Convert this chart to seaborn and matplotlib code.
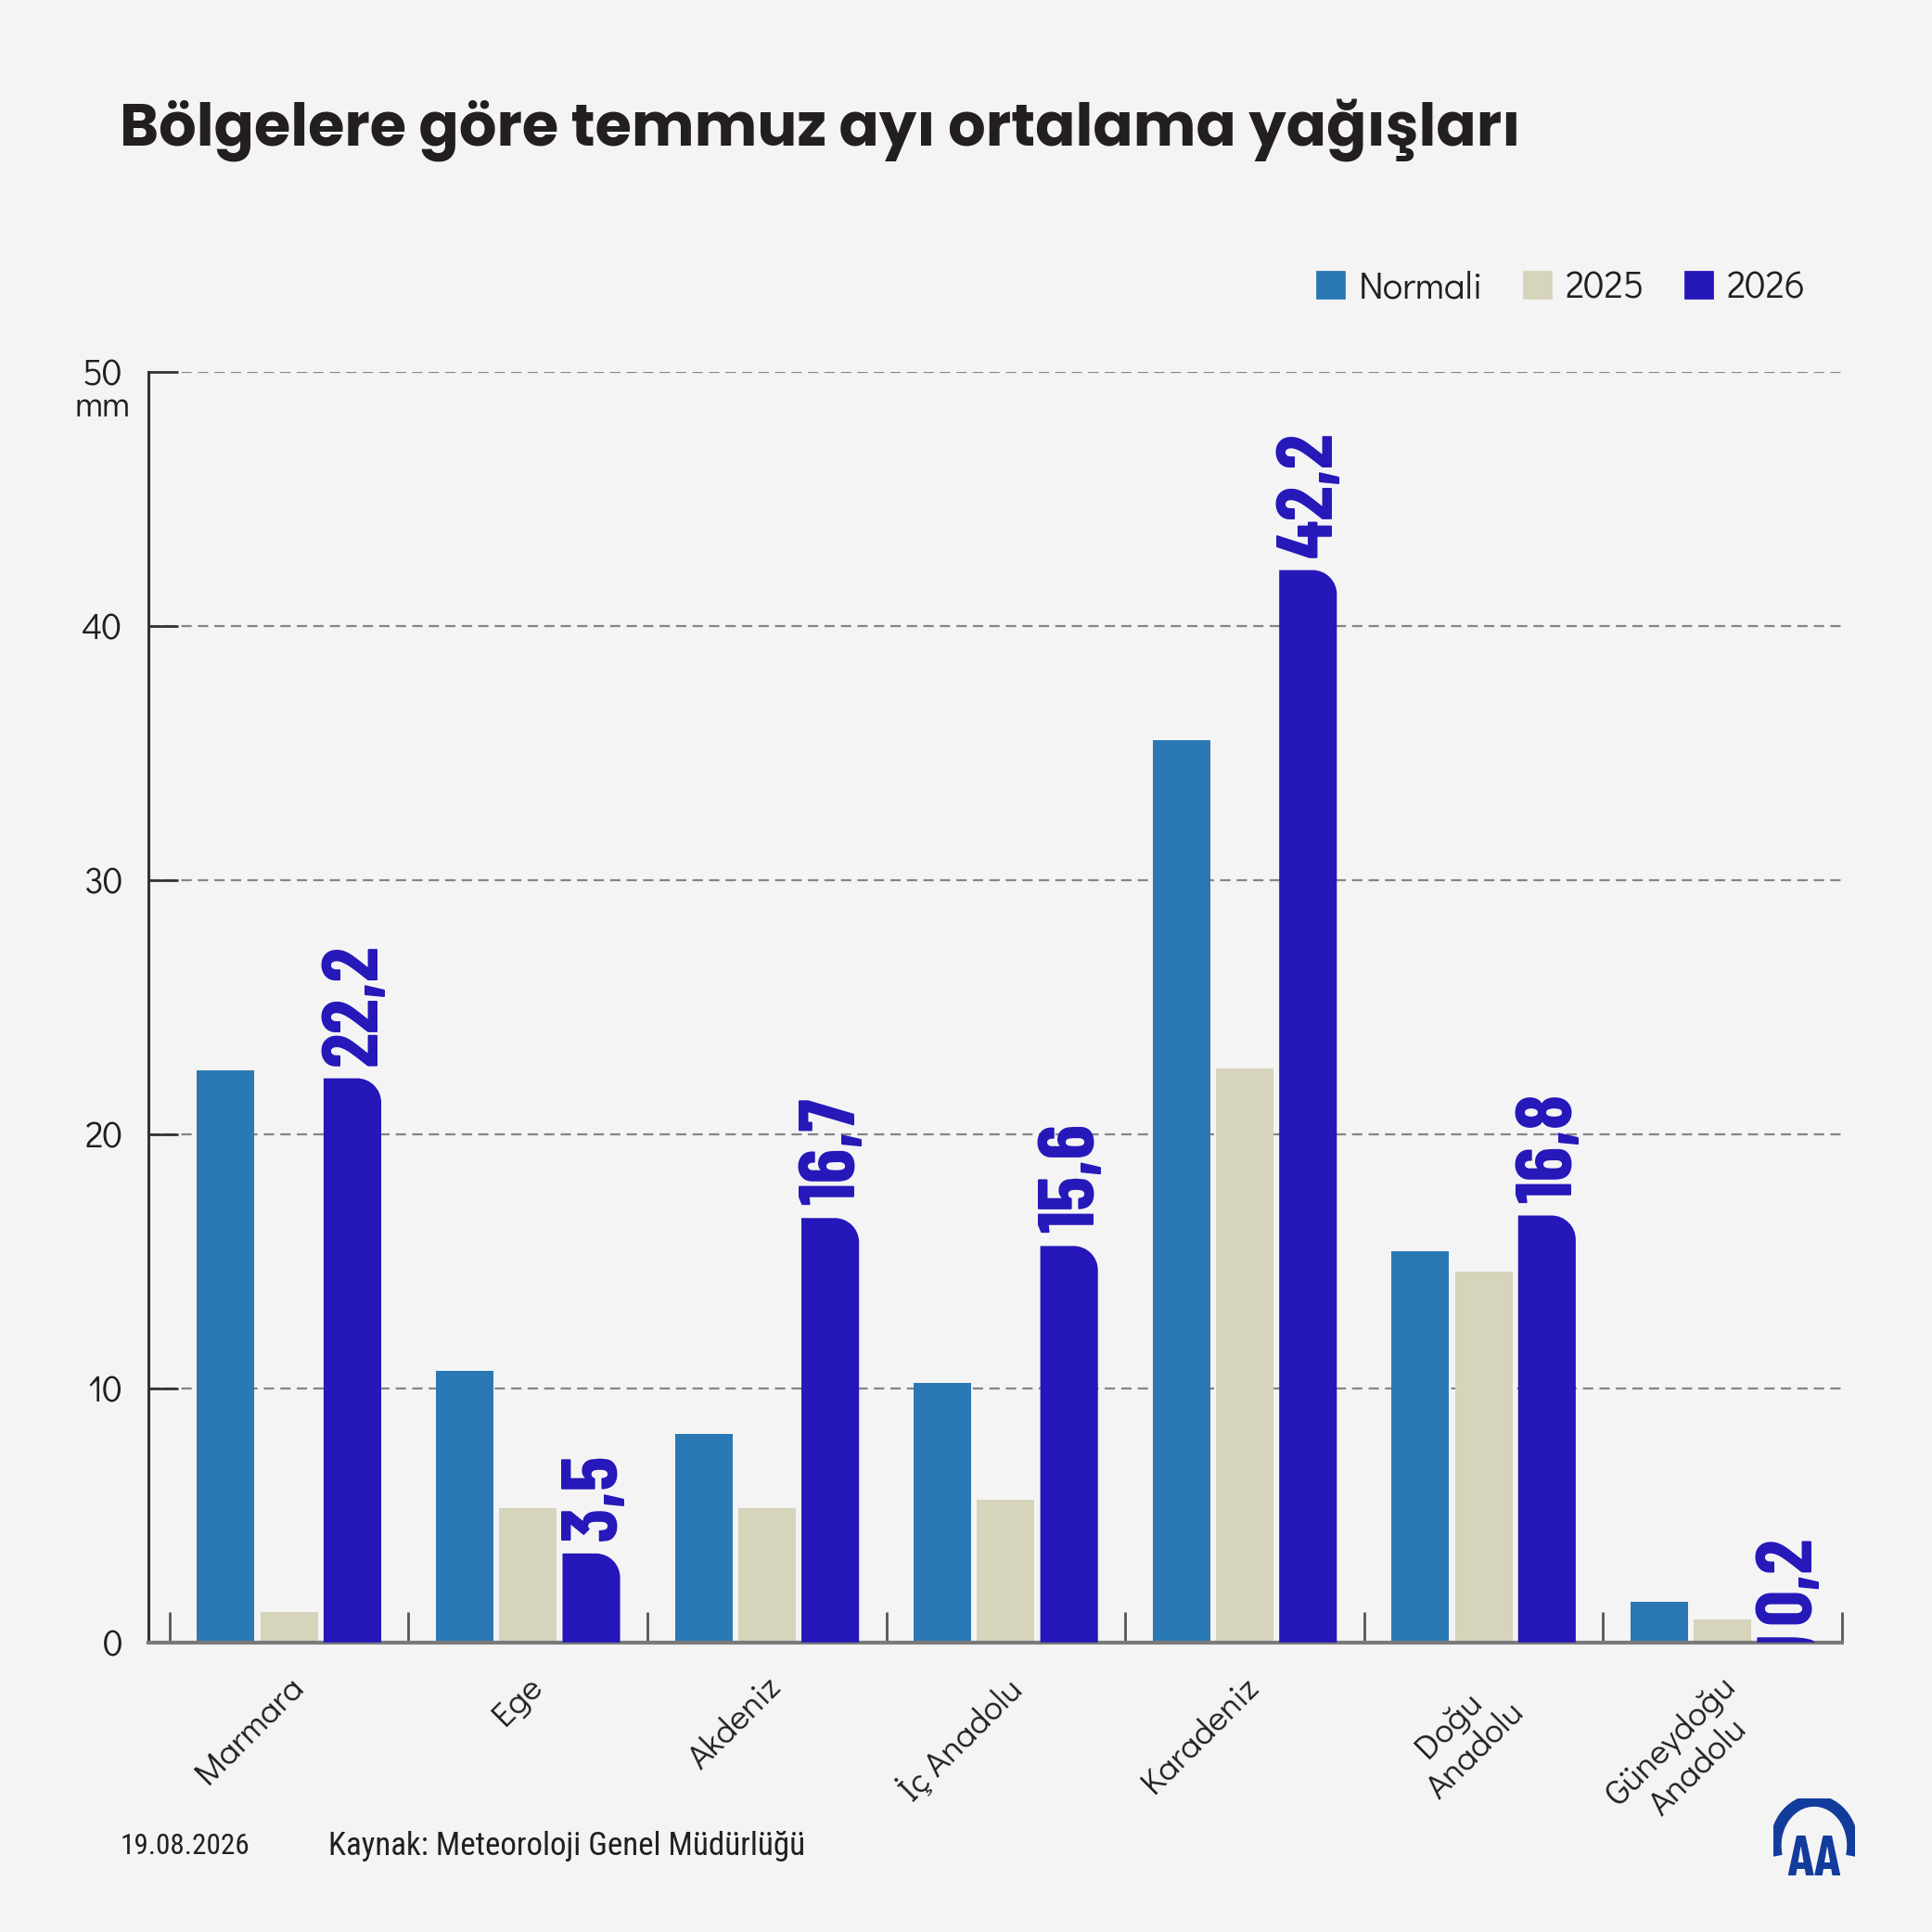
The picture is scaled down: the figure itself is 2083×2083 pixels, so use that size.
import matplotlib.pyplot as plt
import matplotlib.patches as mpatches
from matplotlib.path import Path
from matplotlib.ticker import FixedLocator
import seaborn as sns
import pandas as pd
import numpy as np

# --- data ---------------------------------------------------------------
REGIONS = ['Marmara', 'Ege', 'Akdeniz', 'İç Anadolu', 'Karadeniz',
           'Doğu\nAnadolu', 'Güneydoğu\nAnadolu']
SERIES = ['Normali', '2025', '2026']
NORMALI = [22.5, 10.7, 8.2, 10.2, 35.5, 15.4, 1.6]
Y2025 = [1.2, 5.3, 5.3, 5.6, 22.6, 14.6, 0.9]
Y2026 = [22.2, 3.5, 16.7, 15.6, 42.2, 16.8, 0.2]
LABELS_2026 = ['22,2', '3,5', '16,7', '15,6', '42,2', '16,8', '0,2']
Y_TICKS = [0, 10, 20, 30, 40, 50]

TITLE = 'Bölgelere göre temmuz ayı ortalama yağışları'
DATE = '19.08.2026'
SOURCE = 'Kaynak: Meteoroloji Genel Müdürlüğü'

# --- style --------------------------------------------------------------
BG = '#F4F4F4'
TEXT = '#231F20'
COLORS = {'Normali': '#2A79B4', '2025': '#D6D4BA', '2026': '#2517B9'}
LOGO = '#123C9C'
GOTHIC = ['Didact Gothic', 'Questrial', 'Lato', 'DejaVu Sans']
NARROW = ['Roboto Condensed', 'PT Sans Narrow', 'Open Sans Condensed', 'DejaVu Sans']
VALUE_FONT = ['Barlow Condensed', 'Roboto Condensed', 'Oswald', 'DejaVu Sans']
TITLE_FONT = ['Poppins', 'Lato', 'DejaVu Sans']

df = pd.DataFrame({
    'bolge': REGIONS * 3,
    'seri': [s for s in SERIES for _ in REGIONS],
    'deger': NORMALI + Y2025 + Y2026,
})

sns.set_theme(style='white')
plt.rcParams['font.family'] = GOTHIC
plt.rcParams['text.color'] = TEXT

W = H = 2083
DPI = 200
fig = plt.figure(figsize=(W / DPI, H / DPI), dpi=DPI)
fig.patch.set_facecolor(BG)

AX_POS = [0.0768, 0.1499, 0.8766, 0.6576]
ax = fig.add_axes(AX_POS)
ax.set_facecolor(BG)

sns.barplot(data=df, x='bolge', y='deger', hue='seri', palette=COLORS,
            width=0.795, gap=0.09, saturation=1, linewidth=0,
            legend=False, ax=ax)

XLIM = (-0.589, 6.5)
ax.set_xlim(*XLIM)
ax.set_ylim(0, 50)

# px per data unit, to make the rounded corner circular
px_x = AX_POS[2] * W / (XLIM[1] - XLIM[0])
px_y = AX_POS[3] * H / 50.0

# 2026 bars: rounded top-right corner + value label
for bar, lab in zip(ax.containers[2], LABELS_2026):
    x0, w, h = bar.get_x(), bar.get_width(), bar.get_height()
    x1 = x0 + w
    rx = 0.42 * w
    ry = min(rx * px_x / px_y, h)
    k = 0.5523
    verts = [(x0, 0), (x0, h), (x1 - rx, h),
             (x1 - rx + k * rx, h), (x1, h - ry + k * ry), (x1, h - ry),
             (x1, 0), (x0, 0)]
    codes = [Path.MOVETO, Path.LINETO, Path.LINETO,
             Path.CURVE4, Path.CURVE4, Path.CURVE4,
             Path.LINETO, Path.CLOSEPOLY]
    bar.set_visible(False)
    ax.add_patch(mpatches.PathPatch(Path(verts, codes), facecolor=COLORS['2026'],
                                    edgecolor='none', zorder=3))
    ax.text(x0 + w / 2 + 4 / px_x, h + 14 / px_y, lab, rotation=90,
            ha='center', va='bottom', fontsize=31, fontweight='bold',
            color=COLORS['2026'], family=VALUE_FONT, clip_on=False, zorder=4)

# grid & spines
ax.set_yticks(Y_TICKS)
ax.yaxis.grid(True, linestyle=(0, (5, 3)), color='#858585', linewidth=0.8)
ax.set_axisbelow(True)
for s in ['top', 'right']:
    ax.spines[s].set_visible(False)
ax.spines['left'].set_color('#333333')
ax.spines['left'].set_linewidth(1.1)
ax.spines['bottom'].set_color('#7A7A7A')
ax.spines['bottom'].set_linewidth(1.5)

ax.tick_params(axis='y', direction='in', length=11.5, width=1.0, color='#333333',
               labelsize=14, labelcolor=TEXT, pad=10, left=True)
ax.set_ylabel('')
ax.set_xlabel('')
ax.annotate('mm', xy=(0, 50), xycoords=('axes fraction', 'data'),
            xytext=(-7, -13.5), textcoords='offset points',
            ha='right', va='center', fontsize=14, color=TEXT)

# x: group separators as minor ticks, category labels as text
ax.xaxis.set_minor_locator(FixedLocator(np.arange(-0.5, 7, 1.0)))
ax.tick_params(axis='x', which='minor', direction='in', length=12, width=1.0,
               color='#555555', bottom=True)
ax.tick_params(axis='x', which='major', length=0, labelbottom=False)
for i, name in enumerate(REGIONS):
    ax.text(i - 0.01, -0.022, name, transform=ax.get_xaxis_transform(),
            rotation=45, rotation_mode='anchor', ha='right', va='top',
            multialignment='center', fontsize=13.5, color=TEXT)

# legend
handles = [mpatches.Patch(color=COLORS[s], label=s) for s in SERIES]
fig.legend(handles=handles, loc='center right', bbox_to_anchor=(0.952, 0.851),
           ncol=3, frameon=False, fontsize=14.5, handlelength=0.7, handleheight=0.7,
           handletextpad=0.4, columnspacing=1.1, labelcolor=TEXT)

# title & footer
fig.text(0.062, 0.933, TITLE, ha='left', va='center', fontsize=23,
         fontweight='bold', family=TITLE_FONT, color=TEXT)
fig.text(0.062, 0.0446, DATE, ha='left', va='center', fontsize=11.2,
         family=NARROW, color=TEXT)
fig.text(0.170, 0.0446, SOURCE, ha='left', va='center', fontsize=12.6,
         family=NARROW, color=TEXT)

# AA logo
lax = fig.add_axes([0.918, 0.025, 0.042, 0.044])
lax.set_xlim(0, 1)
lax.set_ylim(0, 1)
lax.axis('off')
lax.add_patch(mpatches.Arc((0.5, 0.45), 0.95, 1.05, theta1=-15, theta2=195,
                           color=LOGO, linewidth=4.5))
lax.text(0.5, -0.02, 'AA', ha='center', va='bottom', fontsize=22,
         fontweight='bold', family=VALUE_FONT, color=LOGO)

fig.savefig('out.png', dpi=DPI, facecolor=BG)
